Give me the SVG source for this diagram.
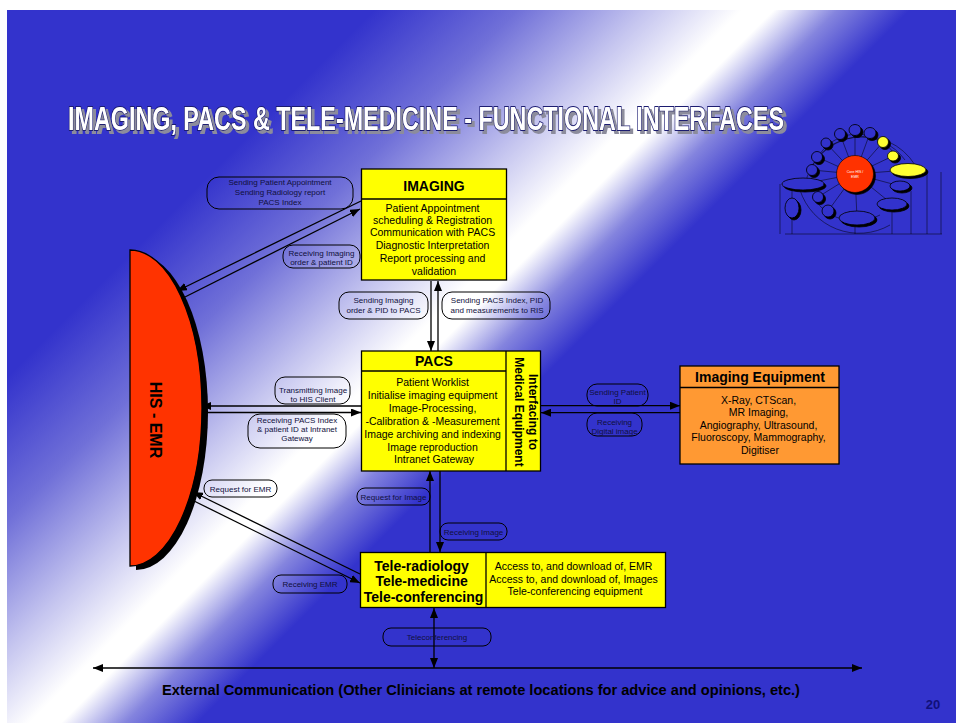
<svg xmlns="http://www.w3.org/2000/svg" width="956" height="723" viewBox="0 0 956 723">
  <defs>
    <linearGradient id="slideBg" gradientUnits="userSpaceOnUse" x1="0" y1="0" x2="800" y2="800">
      <stop offset="0" stop-color="#3333cc"/>
      <stop offset="0.24" stop-color="#3333cc"/>
      <stop offset="0.33" stop-color="#7070d8"/>
      <stop offset="0.41" stop-color="#c4c4ef"/>
      <stop offset="0.47" stop-color="#ffffff"/>
      <stop offset="0.49" stop-color="#ffffff"/>
      <stop offset="0.53" stop-color="#8484de"/>
      <stop offset="0.575" stop-color="#3333cc"/>
      <stop offset="1" stop-color="#3333cc"/>
    </linearGradient>
    <filter id="titleShadow" filterUnits="userSpaceOnUse" x="40" y="90" width="780" height="60">
      <feOffset in="SourceAlpha" dx="3" dy="3" result="off"/>
      <feFlood flood-color="#8c8c9c"/>
      <feComposite in2="off" operator="in" result="shade"/>
      <feMerge><feMergeNode in="shade"/><feMergeNode in="SourceGraphic"/></feMerge>
    </filter>
    <filter id="miniShadow" x="-30%" y="-30%" width="160%" height="160%">
      <feOffset in="SourceAlpha" dx="1.5" dy="1.5" result="off"/>
      <feMerge><feMergeNode in="off"/><feMergeNode in="SourceGraphic"/></feMerge>
    </filter>
    <marker id="arrow" viewBox="0 0 10 8" refX="10" refY="4" markerWidth="10" markerHeight="8" markerUnits="userSpaceOnUse" orient="auto-start-reverse">
      <path d="M0,0 L10,4 L0,8 z" fill="#000"/>
    </marker>
    <style>
      .box { fill: #ffff00; stroke: #000; stroke-width: 1.3; }
      .equip { fill: #ff9933; stroke: #000; stroke-width: 1.3; }
      .div { stroke: #000; stroke-width: 1.3; fill: none; }
      .conn { stroke: #000; stroke-width: 1.3; fill: none; marker-end: url(#arrow); }
      .both { marker-start: url(#arrow); }
      .pill { fill: none; stroke: #000; stroke-width: 1; }
      .lbl { font-family: "Liberation Sans", Arial, sans-serif; font-size: 8px; fill: #10103c; text-anchor: middle; }
      .head { font-family: "Liberation Sans", Arial, sans-serif; font-weight: bold; font-size: 14px; fill: #000; text-anchor: middle; }
      .body { font-family: "Liberation Sans", Arial, sans-serif; font-size: 10.5px; fill: #000; text-anchor: middle; }
      .mini { fill: #3333cc; stroke: #000; stroke-width: 0.8; }
      .miniY { fill: #ffff33; stroke: #000; stroke-width: 0.8; }
      .miniL { stroke: #000; stroke-width: 0.5; fill: none; }
    </style>
  </defs>

  <!-- slide background -->
  <rect x="0" y="0" width="956" height="723" fill="#ffffff"/>
  <rect x="7" y="10" width="949" height="713" fill="url(#slideBg)"/>

  <!-- title -->
  <g id="title" filter="url(#titleShadow)">
    <text x="68" y="130" textLength="716" lengthAdjust="spacingAndGlyphs" font-family="'Liberation Sans Narrow', 'Liberation Sans', Arial, sans-serif" font-weight="bold" font-size="33" fill="#ffffff" stroke="#1a1a70" stroke-width="1.8" paint-order="stroke">IMAGING, PACS &amp; TELE-MEDICINE - FUNCTIONAL INTERFACES</text>
  </g>

  <!-- overview thumbnail -->
  <g id="overview">
    <g class="miniL">
      <path d="M818,157 A45,45 0 0 1 893,152"/>
      <path d="M810,170 A55,55 0 0 1 905,160"/>
      <path d="M805,185 A60,60 0 0 1 915,165"/>
      <path d="M815,200 A50,50 0 0 0 880,215"/>
      <path d="M800,190 A62,62 0 0 0 890,225"/>
      <line x1="855" y1="174" x2="826" y2="143"/>
      <line x1="855" y1="174" x2="840" y2="134"/>
      <line x1="855" y1="174" x2="855" y2="130"/>
      <line x1="855" y1="174" x2="870" y2="133"/>
      <line x1="855" y1="174" x2="883" y2="142"/>
      <line x1="855" y1="174" x2="893" y2="156"/>
      <line x1="855" y1="174" x2="908" y2="170"/>
      <line x1="855" y1="174" x2="900" y2="186"/>
      <line x1="855" y1="174" x2="892" y2="204"/>
      <line x1="855" y1="174" x2="857" y2="218"/>
      <line x1="855" y1="174" x2="828" y2="211"/>
      <line x1="855" y1="174" x2="818" y2="197"/>
      <line x1="855" y1="174" x2="803" y2="184"/>
      <line x1="855" y1="174" x2="812" y2="170"/>
      <line x1="855" y1="174" x2="817" y2="157"/>
      <line x1="785" y1="234" x2="942" y2="234"/>
      <line x1="792" y1="190" x2="792" y2="234"/>
      <line x1="855" y1="225" x2="855" y2="234"/>
      <line x1="892" y1="210" x2="892" y2="234"/>
      <line x1="911" y1="191" x2="911" y2="234"/>
      <line x1="927" y1="172" x2="927" y2="234"/>
      <line x1="941" y1="172" x2="941" y2="234"/>
      <line x1="780" y1="184" x2="780" y2="234"/>
    </g>
    <g filter="url(#miniShadow)">
      <circle cx="855" cy="174" r="18.5" fill="#ff3300" stroke="#000" stroke-width="0.6"/>
      <ellipse class="mini" cx="826" cy="143" rx="5" ry="5"/>
      <ellipse class="mini" cx="840" cy="134" rx="5.5" ry="5.5"/>
      <ellipse class="mini" cx="855" cy="130" rx="6" ry="5.5"/>
      <ellipse class="mini" cx="870" cy="133" rx="6" ry="5.5"/>
      <ellipse class="miniY" cx="883" cy="142" rx="5.5" ry="5.5"/>
      <ellipse class="miniY" cx="893" cy="156" rx="5.5" ry="5"/>
      <ellipse class="miniY" cx="908" cy="170" rx="18" ry="6.5"/>
      <ellipse class="mini" cx="900" cy="186" rx="10" ry="5"/>
      <ellipse class="mini" cx="892" cy="204" rx="15" ry="6"/>
      <ellipse class="mini" cx="857" cy="218" rx="18" ry="7"/>
      <ellipse class="mini" cx="828" cy="211" rx="6" ry="6"/>
      <ellipse class="mini" cx="818" cy="197" rx="5.5" ry="5.5"/>
      <ellipse class="mini" cx="803" cy="184" rx="21" ry="6"/>
      <ellipse class="mini" cx="812" cy="170" rx="5.5" ry="5.5"/>
      <ellipse class="mini" cx="817" cy="157" rx="5.5" ry="5.5"/>
      <ellipse class="mini" cx="792" cy="208" rx="7" ry="10"/>
    </g>
    <text x="855" y="173" font-family="'Liberation Sans', Arial, sans-serif" font-size="3.5" fill="#ffffff" text-anchor="middle">Core HIS /</text>
    <text x="855" y="177.5" font-family="'Liberation Sans', Arial, sans-serif" font-size="3.5" fill="#ffffff" text-anchor="middle">EMR</text>
  </g>

  <!-- connectors -->
  <g id="connectors">
    <line class="conn" x1="361" y1="201" x2="177" y2="291"/>
    <line class="conn" x1="183" y1="298" x2="360" y2="209"/>
    <line class="conn" x1="431" y1="281" x2="431" y2="351"/>
    <line class="conn" x1="438" y1="351" x2="438" y2="281"/>
    <line class="conn" x1="361" y1="406" x2="201" y2="406"/>
    <line class="conn" x1="201" y1="412.5" x2="361" y2="412.5"/>
    <line class="conn" x1="541" y1="405.7" x2="680" y2="405.7"/>
    <line class="conn" x1="680" y1="412.7" x2="541" y2="412.7"/>
    <line class="conn" x1="440" y1="471" x2="440" y2="552"/>
    <line class="conn" x1="430" y1="552" x2="430" y2="471"/>
    <line class="conn" x1="360" y1="574" x2="193" y2="492"/>
    <line class="conn" x1="192" y1="500" x2="360" y2="583"/>
    <line class="conn both" x1="434" y1="608" x2="434" y2="668"/>
    <line class="conn both" x1="93" y1="668" x2="862" y2="668"/>

    <rect class="pill" x="207" y="177" width="146" height="32" rx="12"/>
    <text class="lbl"><tspan x="280" y="184.5">Sending Patient Appointment</tspan><tspan x="280" y="194.5">Sending Radiology report</tspan><tspan x="280" y="204.5">PACS Index</tspan></text>

    <rect class="pill" x="283" y="245" width="77" height="23" rx="10"/>
    <text class="lbl"><tspan x="321.5" y="255.5">Receiving Imaging</tspan><tspan x="321.5" y="265">order &amp; patient ID</tspan></text>

    <rect class="pill" x="339" y="292" width="89" height="27" rx="10"/>
    <text class="lbl"><tspan x="383.5" y="303">Sending Imaging</tspan><tspan x="383.5" y="313">order &amp; PID to PACS</tspan></text>

    <rect class="pill" x="442" y="292" width="108" height="27" rx="10"/>
    <text class="lbl"><tspan x="497" y="303">Sending PACS Index, PID</tspan><tspan x="497" y="313">and measurements to RIS</tspan></text>

    <rect class="pill" x="275" y="377" width="75" height="27" rx="10"/>
    <text class="lbl"><tspan x="313" y="393">Transmitting Image</tspan><tspan x="313" y="402">to HIS Client</tspan></text>

    <rect class="pill" x="248" y="414" width="98" height="34" rx="12"/>
    <text class="lbl"><tspan x="297" y="423">Receiving PACS Index</tspan><tspan x="297" y="431.5">&amp; patient ID at Intranet</tspan><tspan x="297" y="440.5">Gateway</tspan></text>

    <rect class="pill" x="587" y="384" width="61" height="22" rx="10"/>
    <text class="lbl"><tspan x="617.5" y="394.5">Sending Patient</tspan><tspan x="617.5" y="403.5">ID</tspan></text>

    <rect class="pill" x="587" y="413" width="55" height="23" rx="10"/>
    <text class="lbl"><tspan x="614.5" y="424.5">Receiving</tspan><tspan x="614.5" y="433.5">Digital image</tspan></text>

    <rect class="pill" x="204" y="480" width="73" height="17" rx="8"/>
    <text class="lbl" x="240.5" y="491.5">Request for EMR</text>

    <rect class="pill" x="357" y="488" width="73" height="17" rx="8"/>
    <text class="lbl" x="393.5" y="499.5">Request for Image</text>

    <rect class="pill" x="440" y="523" width="67" height="17" rx="8"/>
    <text class="lbl" x="473.5" y="534.5">Receiving Image</text>

    <rect class="pill" x="273" y="575" width="74" height="18" rx="8"/>
    <text class="lbl" x="310" y="587">Receiving EMR</text>

    <rect class="pill" x="383" y="628" width="108" height="18" rx="8"/>
    <text class="lbl" x="437" y="640" font-size="7.5">Teleconferencing</text>
  </g>

  <!-- HIS - EMR -->
  <g id="his-emr">
    <path d="M136,254 A72,158 0 0 1 136,570 Z" fill="#000"/>
    <path d="M130,250 A72,158 0 0 1 130,566 Z" fill="#ff3300" stroke="#000" stroke-width="1.3"/>
    <text transform="translate(150,420) rotate(90)" font-family="'Liberation Sans', Arial, sans-serif" font-weight="bold" font-size="16" text-anchor="middle">HIS - EMR</text>
  </g>

  <!-- IMAGING -->
  <g id="imaging">
    <rect class="box" x="361.5" y="169" width="145" height="111"/>
    <line class="div" x1="361.5" y1="199" x2="506.5" y2="199"/>
    <text class="head" x="434" y="190.5">IMAGING</text>
    <text class="body">
      <tspan x="434" y="211.5">Patient Appointment</tspan>
      <tspan x="434" y="223.5">scheduling &amp; Registration</tspan>
      <tspan x="434" y="235.5">Communication with PACS</tspan>
      <tspan x="434" y="248.5">Diagnostic Interpretation</tspan>
      <tspan x="434" y="262">Report processing and</tspan>
      <tspan x="434" y="274.5">validation</tspan>
    </text>
  </g>

  <!-- PACS -->
  <g id="pacs">
    <rect class="box" x="361.5" y="351" width="179" height="120"/>
    <line class="div" x1="361.5" y1="371" x2="506" y2="371"/>
    <line class="div" x1="506" y1="351" x2="506" y2="471"/>
    <text class="head" x="434" y="366">PACS</text>
    <text class="body">
      <tspan x="434" y="386">Patient Worklist</tspan>
      <tspan x="434" y="399">Initialise imaging equipment</tspan>
      <tspan x="434" y="412">Image-Processing,</tspan>
      <tspan x="434" y="425">-Calibration &amp; -Measurement</tspan>
      <tspan x="434" y="437.5">Image archiving and indexing</tspan>
      <tspan x="434" y="450.5">Image reproduction</tspan>
      <tspan x="434" y="463">Intranet Gateway</tspan>
    </text>
    <text transform="translate(528.5,412) rotate(90)" font-family="'Liberation Sans', Arial, sans-serif" font-weight="bold" font-size="12" text-anchor="middle">Interfacing to</text>
    <text transform="translate(515,412) rotate(90)" font-family="'Liberation Sans', Arial, sans-serif" font-weight="bold" font-size="12" text-anchor="middle">Medical Equipment</text>
  </g>

  <!-- Imaging Equipment -->
  <g id="imaging-equipment">
    <rect class="equip" x="680" y="366" width="159" height="98"/>
    <line class="div" x1="680" y1="387.5" x2="839" y2="387.5"/>
    <text class="head" x="760" y="382" font-size="13">Imaging Equipment</text>
    <text class="body">
      <tspan x="760" y="404">X-Ray, CTScan,</tspan>
      <tspan x="760" y="416">MR Imaging,</tspan>
      <tspan x="760" y="428.5">Angiography, Ultrasound,</tspan>
      <tspan x="760" y="441">Fluoroscopy, Mammography,</tspan>
      <tspan x="760" y="454">Digitiser</tspan>
    </text>
  </g>

  <!-- Tele-services -->
  <g id="tele">
    <rect class="box" x="360.5" y="552.5" width="305" height="55"/>
    <line class="div" x1="486" y1="552.5" x2="486" y2="607.5"/>
    <text class="head" font-size="13.5">
      <tspan x="423.5" y="570.5">Tele-radiology</tspan>
      <tspan x="423.5" y="585.5">Tele-medicine</tspan>
      <tspan x="423.5" y="601.5">Tele-conferencing</tspan>
    </text>
    <text class="body" font-size="10">
      <tspan x="575" y="570">Access to, and download of, EMR</tspan>
      <tspan x="575" y="582.5">Access to, and download of, Images</tspan>
      <tspan x="575" y="595">Tele-conferencing equipment</tspan>
    </text>
  </g>

  <!-- external communication -->
  <g id="external">
    <text x="162" y="694.5" textLength="638" lengthAdjust="spacingAndGlyphs" font-family="'Liberation Sans Narrow', 'Liberation Sans', Arial, sans-serif" font-weight="bold" font-size="15" fill="#000">External Communication (Other Clinicians at remote locations for advice and opinions, etc.)</text>
  </g>

  <text x="933" y="709" font-family="'Liberation Sans', Arial, sans-serif" font-weight="bold" font-size="13" fill="#10107a" text-anchor="middle">20</text>
</svg>
